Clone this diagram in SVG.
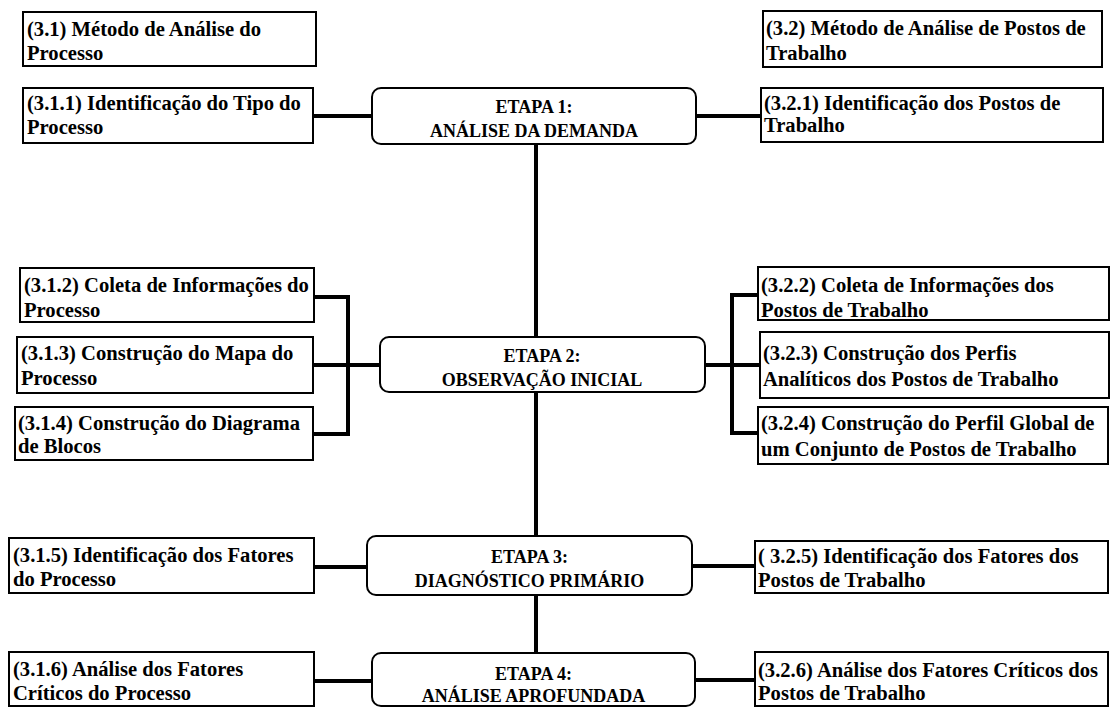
<svg xmlns="http://www.w3.org/2000/svg" width="1110" height="707" viewBox="0 0 1110 707">
  <style>
    .box { fill: #fff; stroke: #000; stroke-width: 2; }
    .stage { fill: #fff; stroke: #000; stroke-width: 2; }
    .t { font-family: "Liberation Serif", "Times New Roman", serif; font-weight: bold; font-size: 20.6px; fill: #000; }
    .st { font-family: "Liberation Serif", "Times New Roman", serif; font-weight: bold; font-size: 18px; fill: #000; text-anchor: middle; }
    .ln { fill: none; stroke: #000; stroke-width: 4; }
  </style>
  <rect width="1110" height="707" fill="#fff"/>

  <!-- connectors -->
  <g id="connectors" class="ln">
    <!-- central spine -->
    <line x1="536" y1="144" x2="536" y2="337"/>
    <line x1="536" y1="392" x2="536" y2="536"/>
    <line x1="536" y1="595" x2="536" y2="653"/>
    <!-- stage 1 -->
    <line x1="313" y1="116" x2="372" y2="116"/>
    <line x1="696" y1="116" x2="761" y2="116"/>
    <!-- stage 2 left bracket -->
    <polyline points="314,297 348,297 348,434 313,434"/>
    <line x1="313" y1="365" x2="380" y2="365"/>
    <!-- stage 2 right bracket -->
    <polyline points="758,295 732,295 732,433 758,433"/>
    <line x1="705" y1="365" x2="760" y2="365"/>
    <!-- stage 3 -->
    <line x1="314" y1="567" x2="367" y2="567"/>
    <line x1="692" y1="566" x2="755" y2="566"/>
    <!-- stage 4 -->
    <line x1="314" y1="681" x2="372" y2="681"/>
    <line x1="695" y1="680" x2="755" y2="680"/>
  </g>

  <!-- stages -->
  <g id="etapa1">
    <rect class="stage" x="372" y="88" width="324" height="56" rx="9"/>
    <text class="st" x="534" y="113">ETAPA 1:</text>
    <text class="st" x="534" y="137">ANÁLISE DA DEMANDA</text>
  </g>
  <g id="etapa2">
    <rect class="stage" x="380" y="337" width="325" height="55" rx="9"/>
    <text class="st" x="542" y="362">ETAPA 2:</text>
    <text class="st" x="542" y="386">OBSERVAÇÃO INICIAL</text>
  </g>
  <g id="etapa3">
    <rect class="stage" x="367" y="536" width="325" height="59" rx="9"/>
    <text class="st" x="529.5" y="563">ETAPA 3:</text>
    <text class="st" x="529.5" y="587">DIAGNÓSTICO PRIMÁRIO</text>
  </g>
  <g id="etapa4">
    <rect class="stage" x="372" y="653" width="323" height="53" rx="9"/>
    <text class="st" x="533.5" y="680">ETAPA 4:</text>
    <text class="st" x="533.5" y="702">ANÁLISE APROFUNDADA</text>
  </g>

  <!-- process method (left column) -->
  <g id="m31">
    <rect class="box" x="23" y="12" width="293" height="54"/>
    <text class="t" x="27" y="36">(3.1) Método de Análise do</text>
    <text class="t" x="27" y="60">Processo</text>
  </g>
  <g id="m311">
    <rect class="box" x="23" y="88" width="290" height="55"/>
    <text class="t" x="27" y="110">(3.1.1) Identificação do Tipo do</text>
    <text class="t" x="27" y="134">Processo</text>
  </g>
  <g id="m312">
    <rect class="box" x="20" y="268" width="294" height="54"/>
    <text class="t" x="24" y="292">(3.1.2) Coleta de Informações do</text>
    <text class="t" x="24" y="317">Processo</text>
  </g>
  <g id="m313">
    <rect class="box" x="17" y="337" width="296" height="56"/>
    <text class="t" x="21" y="360">(3.1.3) Construção do Mapa do</text>
    <text class="t" x="21" y="385">Processo</text>
  </g>
  <g id="m314">
    <rect class="box" x="15" y="407" width="298" height="53"/>
    <text class="t" x="18" y="430">(3.1.4) Construção do Diagrama</text>
    <text class="t" x="18" y="453">de Blocos</text>
  </g>
  <g id="m315">
    <rect class="box" x="9" y="538" width="305" height="55"/>
    <text class="t" x="13" y="562">(3.1.5) Identificação dos Fatores</text>
    <text class="t" x="13" y="586">do Processo</text>
  </g>
  <g id="m316">
    <rect class="box" x="9" y="652" width="305" height="54"/>
    <text class="t" x="13" y="676">(3.1.6) Análise dos Fatores</text>
    <text class="t" x="13" y="700">Críticos do Processo</text>
  </g>

  <!-- workstation method (right column) -->
  <g id="m32">
    <rect class="box" x="763" y="11" width="339" height="56"/>
    <text class="t" x="766" y="35">(3.2) Método de Análise de Postos de</text>
    <text class="t" x="766" y="60">Trabalho</text>
  </g>
  <g id="m321">
    <rect class="box" x="761" y="88" width="342" height="54"/>
    <text class="t" x="764" y="110">(3.2.1) Identificação dos Postos de</text>
    <text class="t" x="764" y="132">Trabalho</text>
  </g>
  <g id="m322">
    <rect class="box" x="758" y="267" width="351" height="53"/>
    <text class="t" x="761" y="292">(3.2.2) Coleta de Informações dos</text>
    <text class="t" x="761" y="317">Postos de Trabalho</text>
  </g>
  <g id="m323">
    <rect class="box" x="760" y="332" width="349" height="66"/>
    <text class="t" x="763" y="360">(3.2.3) Construção dos Perfis</text>
    <text class="t" x="763" y="386">Analíticos dos Postos de Trabalho</text>
  </g>
  <g id="m324">
    <rect class="box" x="758" y="407" width="350" height="57"/>
    <text class="t" x="761" y="430">(3.2.4) Construção do Perfil Global de</text>
    <text class="t" x="761" y="456">um Conjunto de Postos de Trabalho</text>
  </g>
  <g id="m325">
    <rect class="box" x="755" y="541" width="353" height="52"/>
    <text class="t" x="758" y="563">( 3.2.5) Identificação dos Fatores dos</text>
    <text class="t" x="758" y="587">Postos de Trabalho</text>
  </g>
  <g id="m326">
    <rect class="box" x="755" y="652" width="353" height="54"/>
    <text class="t" x="758" y="677">(3.2.6) Análise dos Fatores Críticos dos</text>
    <text class="t" x="758" y="700">Postos de Trabalho</text>
  </g>
</svg>
